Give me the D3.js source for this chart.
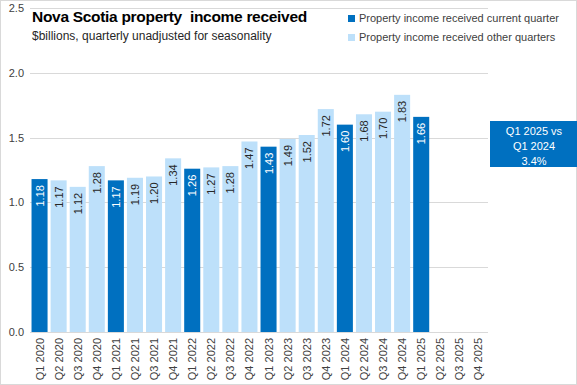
<!DOCTYPE html>
<html>
<head>
<meta charset="utf-8">
<script src="https://cdn.jsdelivr.net/npm/d3@7"></script>
<style>
  body { margin: 0; background: #fff; }
  svg { font-family: "Liberation Sans", Arial, sans-serif; display: block; }
</style>
</head>
<body>
<div id="chart"></div>
<script>
// quarters shown on the x axis
const quarters = ['Q1 2020', 'Q2 2020', 'Q3 2020', 'Q4 2020',
    'Q1 2021', 'Q2 2021', 'Q3 2021', 'Q4 2021',
    'Q1 2022', 'Q2 2022', 'Q3 2022', 'Q4 2022',
    'Q1 2023', 'Q2 2023', 'Q3 2023', 'Q4 2023',
    'Q1 2024', 'Q2 2024', 'Q3 2024', 'Q4 2024',
    'Q1 2025', 'Q2 2025', 'Q3 2025', 'Q4 2025']
// $billions, null = not yet released
const values = [1.18, 1.17, 1.12, 1.28,
    1.17, 1.19, 1.20, 1.34,
    1.26, 1.27, 1.28, 1.47,
    1.43, 1.49, 1.52, 1.72,
    1.60, 1.68, 1.70, 1.83,
    1.66, null, null, null]
const yTicks = [0, 0.5, 1.0, 1.5, 2.0, 2.5]
const legendLabels = ['Property income received current quarter', 'Property income received other quarters']

const darkBlue = '#0070c0'
const lightBlue = '#bde0fa'

var W = 577, H = 385
var margin = { top: 8, right: 89, bottom: 53, left: 30 },
    width = W - margin.left - margin.right,
    height = H - margin.top - margin.bottom;

var svg = d3.select('#chart').append('svg')
    .attr('width', W)
    .attr('height', H)

// outer border
svg.append('rect')
    .attr('x', 0.5).attr('y', 0.5)
    .attr('width', W - 1).attr('height', H - 1)
    .attr('fill', 'none').attr('stroke', '#d9d9d9')

var g = svg.append('g')
    .attr('transform', 'translate(' + margin.left + ',' + margin.top + ')')

var x = d3.scaleBand().domain(quarters).range([0, width]).paddingInner(0.16).paddingOuter(0.08)
var y = d3.scaleLinear().domain([0, 2.5]).range([height, 0])

// gridlines
g.selectAll('line.grid')
    .data(yTicks)
    .enter().append('line')
    .attr('class', 'grid')
    .attr('x1', 0).attr('x2', width)
    .attr('y1', d => Math.round(y(d)) + 0.5).attr('y2', d => Math.round(y(d)) + 0.5)
    .attr('stroke', '#d9d9d9')

// y labels
g.selectAll('text.ytick')
    .data(yTicks)
    .enter().append('text')
    .attr('class', 'ytick')
    .attr('x', -6)
    .attr('y', d => y(d) + 4)
    .attr('text-anchor', 'end')
    .attr('font-size', 11)
    .attr('fill', '#404040')
    .text(d => d3.format('.1f')(d))

var isCurrent = (d, i) => quarters[i].startsWith('Q1')
var data = values.map((v, i) => ({ q: quarters[i], v: v, cur: isCurrent(v, i) })).filter(d => d.v != null)

g.selectAll('rect.bar')
    .data(data)
    .enter().append('rect')
    .attr('class', 'bar')
    .attr('x', d => x(d.q))
    .attr('y', d => y(d.v))
    .attr('width', x.bandwidth())
    .attr('height', d => height - y(d.v))
    .attr('fill', d => d.cur ? darkBlue : lightBlue)

// value labels, rotated inside top of bar
g.selectAll('text.val')
    .data(data)
    .enter().append('text')
    .attr('class', 'val')
    .attr('transform', d => 'translate(' + (x(d.q) + x.bandwidth() / 2 + 4) + ',' + (y(d.v) + 6) + ') rotate(-90)')
    .attr('text-anchor', 'end')
    .attr('font-size', 11)
    .attr('fill', d => d.cur ? '#fff' : '#262626')
    .text(d => d3.format('.2f')(d.v))

// x labels
g.selectAll('text.xtick')
    .data(quarters)
    .enter().append('text')
    .attr('class', 'xtick')
    .attr('transform', d => 'translate(' + (x(d) + x.bandwidth() / 2 + 4) + ',' + (height + 6) + ') rotate(-90)')
    .attr('text-anchor', 'end')
    .attr('font-size', 11)
    .attr('fill', '#404040')
    .text(d => d)

// title (keeps the double space of the original)
svg.append('text')
    .attr('x', 32).attr('y', 22)
    .attr('font-size', 15.5).attr('font-weight', 'bold')
    .attr('fill', '#000')
    .attr('letter-spacing', -0.3)
    .style('white-space', 'pre')
    .text('Nova Scotia property  income received')
svg.append('text')
    .attr('x', 32).attr('y', 40)
    .attr('font-size', 12)
    .attr('fill', '#262626')
    .text('$billions, quarterly unadjusted for seasonality')

// legend
var leg = svg.selectAll('g.leg')
    .data(legendLabels)
    .enter().append('g')
    .attr('class', 'leg')
    .attr('transform', (d, i) => 'translate(348,' + (15 + i * 19) + ')')
leg.append('rect')
    .attr('width', 7).attr('height', 7)
    .attr('fill', (d, i) => i == 0 ? darkBlue : lightBlue)
leg.append('text')
    .attr('x', 11).attr('y', 7)
    .attr('font-size', 11)
    .attr('fill', '#404040')
    .text(d => d)

// comparison box
var box = svg.append('g').attr('transform', 'translate(490,121)')
box.append('rect')
    .attr('width', 87).attr('height', 46)
    .attr('fill', darkBlue)
box.selectAll('text')
    .data(['Q1 2025 vs', 'Q1 2024', '3.4%'])
    .enter().append('text')
    .attr('x', 44)
    .attr('y', (d, i) => 14 + i * 15)
    .attr('text-anchor', 'middle')
    .attr('font-size', 11)
    .attr('fill', '#fff')
    .text(d => d)
</script>
</body>
</html>
